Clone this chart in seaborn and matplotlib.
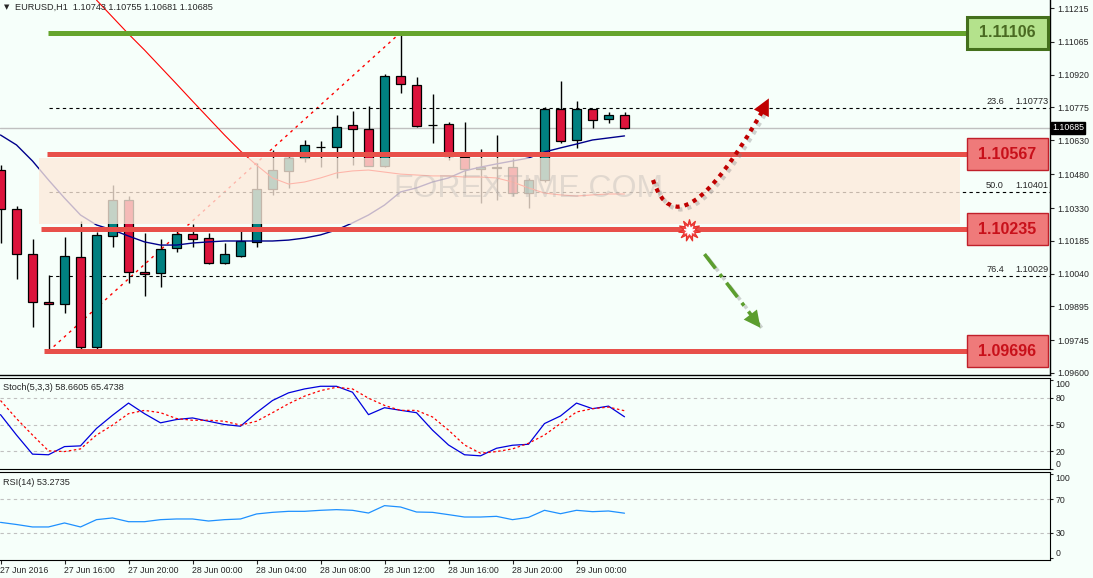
import numpy as np
import pandas as pd
import matplotlib
matplotlib.use("Agg")
import matplotlib.pyplot as plt
import matplotlib.patheffects as pe
import matplotlib.transforms as mtrans
from matplotlib.patches import Rectangle, PathPatch
from matplotlib.path import Path
import seaborn as sns

# EURUSD H1, 27 Jun 2016 12:00 -> 29 Jun 2016 03:00
times = pd.date_range("2016-06-27 12:00", periods=40, freq="h")

opens = [1.10498, 1.10326, 1.10126, 1.09914, 1.09905, 1.10113, 1.09715, 1.10206, 1.10365, 1.10047,
         1.10042, 1.10153, 1.10215, 1.10197, 1.10087, 1.10118, 1.10180, 1.10414, 1.10494, 1.10551,
         1.10600, 1.10600, 1.10697, 1.10680, 1.10516, 1.10914, 1.10874, 1.10697, 1.10702, 1.10556,
         1.10503, 1.10511, 1.10511, 1.10396, 1.10454, 1.10768, 1.10631, 1.10768, 1.10724, 1.10743]
highs = [1.10520, 1.10339, 1.10193, 1.10034, 1.10202, 1.10272, 1.10224, 1.10432, 1.10383, 1.10219,
         1.10193, 1.10233, 1.10259, 1.10219, 1.10175, 1.10246, 1.10529, 1.10587, 1.10556, 1.10631,
         1.10626, 1.10742, 1.10759, 1.10781, 1.10923, 1.11106, 1.10910, 1.10834, 1.10711, 1.10711,
         1.10591, 1.10653, 1.10551, 1.10463, 1.10777, 1.10892, 1.10803, 1.10770, 1.10755, 1.10755]
lows = [1.10175, 1.10016, 1.09803, 1.09696, 1.09865, 1.09706, 1.09706, 1.10157, 1.09998, 1.09941,
        1.09980, 1.10135, 1.10157, 1.10082, 1.10082, 1.10113, 1.10157, 1.10388, 1.10419, 1.10534,
        1.10511, 1.10463, 1.10520, 1.10516, 1.10510, 1.10839, 1.10688, 1.10618, 1.10542, 1.10467,
        1.10352, 1.10365, 1.10383, 1.10330, 1.10445, 1.10618, 1.10596, 1.10684, 1.10706, 1.10681]
closes = [1.10326, 1.10126, 1.09914, 1.09905, 1.10118, 1.09715, 1.10211, 1.10365, 1.10047, 1.10038,
          1.10149, 1.10215, 1.10193, 1.10087, 1.10126, 1.10184, 1.10414, 1.10498, 1.10551, 1.10609,
          1.10601, 1.10688, 1.10680, 1.10516, 1.10914, 1.10879, 1.10693, 1.10696, 1.10560, 1.10503,
          1.10511, 1.10507, 1.10396, 1.10454, 1.10768, 1.10626, 1.10768, 1.10719, 1.10742, 1.10685]

ma_blue = [1.10653, 1.10609, 1.10538, 1.10454, 1.10374, 1.10299, 1.10255, 1.10233, 1.10206, 1.10180,
           1.10166, 1.10166, 1.10175, 1.10180, 1.10184, 1.10184, 1.10184, 1.10184, 1.10188, 1.10197,
           1.10211, 1.10233, 1.10264, 1.10299, 1.10343, 1.10401, 1.10419, 1.10445, 1.10463, 1.10494,
           1.10511, 1.10525, 1.10538, 1.10551, 1.10578, 1.10596, 1.10613, 1.10631, 1.10640, 1.10649]
ma_red = [np.nan] * 6 + [
    1.11250, 1.11175, 1.11100, 1.11029, 1.10954, 1.10879, 1.10803, 1.10728, 1.10653, 1.10582,
    1.10520, 1.10463, 1.10436, 1.10445, 1.10463, 1.10485, 1.10494, 1.10498, 1.10489, 1.10480,
    1.10476, 1.10472, 1.10472, 1.10467, 1.10467, 1.10463, 1.10445, 1.10419, 1.10396, 1.10388,
    1.10383, 1.10388, 1.10392, 1.10392]

stoch_k = [61.1, 38.2, 16.7, 16.0, 25.2, 26.0, 45.6, 60.4, 74.1, 62.2, 51.9, 55.6, 57.4, 53.7, 50.0,
           48.1, 63.3, 77.0, 85.6, 90.0, 93.0, 93.0, 86.3, 61.1, 68.9, 66.0, 63.3, 43.7, 27.0, 16.0,
           14.8, 23.3, 26.7, 27.8, 51.1, 59.6, 74.1, 67.8, 70.7, 58.7]
stoch_d = [77.0, 56.7, 38.2, 20.4, 19.6, 22.6, 38.2, 49.3, 62.2, 65.9, 63.3, 56.7, 54.8, 54.8, 53.7,
           49.3, 53.7, 63.3, 73.3, 81.9, 88.1, 91.9, 90.0, 79.6, 71.5, 65.9, 65.9, 58.5, 43.7, 27.0,
           17.8, 19.6, 22.6, 28.9, 38.2, 51.1, 64.1, 67.8, 69.6, 65.5]
rsi = [42.5, 40.0, 37.1, 37.1, 41.8, 37.1, 45.7, 47.7, 43.3, 43.3, 45.7, 46.5, 46.5, 44.1, 45.7,
       46.5, 52.4, 54.3, 55.5, 55.5, 56.7, 57.5, 56.7, 53.5, 62.2, 60.6, 54.7, 54.3, 51.6, 48.8,
       48.8, 49.6, 45.7, 48.4, 56.7, 52.7, 56.7, 55.1, 55.9, 53.3]

resistance = [1.11106]
supports = [1.10567, 1.10235, 1.09696]
zone_low, zone_high = 1.10259, 1.10551
fib_pcts = [23.6, 50.0, 76.4]
price_ticks = [1.11215, 1.11065, 1.10920, 1.10775, 1.10630, 1.10480,
               1.10330, 1.10185, 1.10040, 1.09895, 1.09745, 1.09600]
last_price = 1.10685

BG = "#f6fffa"
TEAL = "#008080"
CRIMSON = "#dc143c"
LVL_RED = "#e8504a"
LVL_GREEN = "#66a52d"

sns.set_style("white", {"axes.facecolor": BG, "figure.facecolor": BG})
plt.rcParams["font.family"] = ["Liberation Sans", "DejaVu Sans"]

df = pd.DataFrame({"time": times, "open": opens, "high": highs, "low": lows, "close": closes,
                   "ma_blue": ma_blue, "ma_red": ma_red, "k": stoch_k, "d": stoch_d, "rsi": rsi})
df["i"] = np.arange(len(df))

W, H = 1093, 578
fig = plt.figure(figsize=(W / 100, H / 100), dpi=100)


def px_box(l, t, r, b):
    return [l / W, 1 - b / H, (r - l) / W, (b - t) / H]


ax = fig.add_axes(px_box(0, 0, 1050, 375))
ax_st = fig.add_axes(px_box(0, 378, 1050, 469), sharex=ax)
ax_rsi = fig.add_axes(px_box(0, 472, 1050, 560), sharex=ax)

# price scale: 1 px = 0.00004425
pp = 0.00004425
ax.set_ylim(1.11215 - 367 * pp, 1.11215 + 8 * pp)
ax.set_xlim(-0.5 / 16, 1049.5 / 16)

# current price line
ax.axhline(last_price, color="#c0c0c0", lw=1, zorder=1)

# candles
body_lo = np.minimum(df.open, df.close)
body_h = np.maximum((df.close - df.open).abs(), 0.000012)
colors = np.where(df.close > df.open, TEAL, CRIMSON).astype(object)
colors[(df.close - df.open).abs() < 0.00002] = "black"
ax.vlines(df.i, df.low, df.high, color="black", lw=1, zorder=2)
ax.bar(df.i, body_h, bottom=body_lo, width=0.62, color=list(colors),
       edgecolor="black", linewidth=0.9, zorder=3)

# moving averages
sns.lineplot(data=df, x="i", y="ma_blue", ax=ax, color="#00008b", lw=1, zorder=3)
sns.lineplot(data=df.dropna(subset=["ma_red"]), x="i", y="ma_red", ax=ax, color="red", lw=0.8, zorder=3)

# fibonacci
i_lo = int(np.argmin(lows))
i_hi = int(np.argmax(highs))
f_lo, f_hi = lows[i_lo], highs[i_hi]
ax.plot([i_lo, i_hi], [f_lo, f_hi], color="red", lw=1, ls=(0, (2, 3)), zorder=2)
xr = mtrans.blended_transform_factory(ax.transAxes, ax.transData)
for p in fib_pcts:
    v = f_hi - p / 100 * (f_hi - f_lo)
    ax.plot([i_lo, 70], [v, v], color="black", lw=0.8, ls=(0, (3, 3)), zorder=2)
    ax.text(1004 / 1050, v + 2 * pp, f"{p:.1f}", transform=xr, ha="right", va="bottom",
            fontsize=6.6, zorder=9)
    ax.text(1048 / 1050, v + 2 * pp, f"{v:.5f}", transform=xr, ha="right", va="bottom",
            fontsize=6.6, zorder=9)

# shaded zone
ax.axhspan(zone_low, zone_high, xmin=39 / 1050, xmax=960 / 1050, color="#fdeadb", alpha=0.78,
           lw=0, zorder=4)
ax.text(33.0, (zone_low + zone_high) / 2 + 0.0001, "FOREXTIME.COM", fontsize=23, color="#a8a8a8",
        alpha=0.3, ha="center", va="center", fontweight="light", zorder=5)

# support / resistance lines with price boxes
starts = {1.11106: 48, 1.10567: 47, 1.10235: 41, 1.09696: 44}
bx0, bx1 = (967 - 0.5) / 16, (1048 - 0.5) / 16
for lv in resistance + supports:
    green = lv in resistance
    ax.plot([(starts[lv] - 0.5) / 16, bx0], [lv, lv], color=LVL_GREEN if green else LVL_RED,
            lw=3.6, solid_capstyle="butt", zorder=6)
    ax.add_patch(Rectangle((bx0, lv - 16 * pp), bx1 - bx0, 32 * pp,
                           facecolor="#b4e28c" if green else "#ef7a7a",
                           edgecolor="#44701c" if green else "#c0202a",
                           lw=2.2 if green else 1.0, zorder=7, clip_on=False))
    ax.text((bx0 + bx1) / 2, lv, f"{lv:.5f}", ha="center", va="center", fontsize=11.5,
            fontweight="bold", color="#4a6a22" if green else "#c8101a", zorder=8)

# scenario arrows
shadow = [pe.SimpleLineShadow(offset=(2, -2), shadow_color="gray", alpha=0.35), pe.Normal()]
curve = Path([(40.78, 1.10454), (42.4, 1.10110), (47.66, 1.10764)],
             [Path.MOVETO, Path.CURVE3, Path.CURVE3])
ax.add_patch(PathPatch(curve, fill=False, edgecolor="#c00000", lw=3, ls=(0, (1, 1.2)),
                       capstyle="butt", zorder=8, path_effects=shadow))
ax.annotate("", xy=(48.1, 1.10826), xytext=(47.66, 1.10764),
            arrowprops=dict(arrowstyle="-|>", color="#c00000", lw=0, mutation_scale=30), zorder=8)
ax.plot([44.0, 47.4], [1.10126, 1.09812], color="#5c9e2e", lw=2.6, ls=(0, (5, 2, 1, 2)), zorder=8,
        path_effects=shadow)
ax.annotate("", xy=(47.6, 1.09790), xytext=(47.3, 1.09818),
            arrowprops=dict(arrowstyle="-|>", color="#5c9e2e", lw=0, mutation_scale=30), zorder=8)
ax.plot(43.0, 1.10233, marker=(11, 1, 0), ms=16, mfc="#f04848", mec="#e8302a", mew=0.8, zorder=9)
ax.plot(43.0, 1.10233, marker=(9, 1, 0), ms=8, mfc="white", mec="white", mew=0.5, zorder=9)

# main axis styling
ax.yaxis.tick_right()
ax.set_yticks(price_ticks)
ax.set_yticklabels([f"{v:.5f}" for v in price_ticks])
ax.tick_params(axis="y", labelsize=6.3, length=3, pad=2, right=True, left=False)
ax.tick_params(axis="x", bottom=False, labelbottom=False)
ax.set_xlabel("")
ax.set_ylabel("")
for s in ["left", "top"]:
    ax.spines[s].set_visible(False)
for s in ["right", "bottom"]:
    ax.spines[s].set_color("black")
    ax.spines[s].set_linewidth(1)
ax.text(1.002, last_price, f"{last_price:.5f}", transform=xr, ha="left", va="center",
        fontsize=6.3, color="white", zorder=10, clip_on=False,
        bbox=dict(boxstyle="square,pad=0.15", fc="black", ec="black"))
fig.text(4 / W, 1 - 7 / H, "\u25bc", fontsize=5, va="center", family="DejaVu Sans")
fig.text(15 / W, 1 - 7 / H, "EURUSD,H1  1.10743 1.10755 1.10681 1.10685", fontsize=6.6, va="center")

# stochastic
for lv in [80, 50, 20]:
    ax_st.axhline(lv, color="#c0c0c0", lw=0.8, ls=(0, (3, 3)))
sns.lineplot(data=df, x="i", y="k", ax=ax_st, color="#0000dd", lw=0.9)
sns.lineplot(data=df, x="i", y="d", ax=ax_st, color="red", lw=0.9, ls=(0, (2, 2)))
ax_st.set_ylim(0, 102.3)
ax_st.yaxis.tick_right()
ax_st.set_yticks([0, 20, 50, 80, 100])
ax_st.tick_params(axis="y", labelsize=6.3, length=2, pad=2)
ax_st.tick_params(axis="x", bottom=False, labelbottom=False)
ax_st.set_xlabel("")
ax_st.set_ylabel("")
ax_st.spines["left"].set_visible(False)
for s in ["right", "bottom", "top"]:
    ax_st.spines[s].set_color("black")
ax_st.text(0.003, 0.9, "Stoch(5,3,3) 58.6605 65.4738", transform=ax_st.transAxes, fontsize=6.6,
           va="center")

# rsi
for lv in [70, 30]:
    ax_rsi.axhline(lv, color="#c0c0c0", lw=0.8, ls=(0, (3, 3)))
sns.lineplot(data=df, x="i", y="rsi", ax=ax_rsi, color="#1e90ff", lw=0.9)
ax_rsi.set_ylim(-1.8, 101.8)
ax_rsi.yaxis.tick_right()
ax_rsi.set_yticks([0, 30, 70, 100])
ax_rsi.tick_params(axis="y", labelsize=6.3, length=2, pad=2)
ax_rsi.set_ylabel("")
ax_rsi.set_xlabel("")
ax_rsi.spines["left"].set_visible(False)
for s in ["right", "bottom", "top"]:
    ax_rsi.spines[s].set_color("black")
ax_rsi.text(0.003, 0.88, "RSI(14) 53.2735", transform=ax_rsi.transAxes, fontsize=6.6, va="center")

# keep the 0 / 100 labels inside their panels, as the terminal does
for a in (ax_st, ax_rsi):
    labs = a.get_yticklabels()
    labs[0].set_verticalalignment("bottom")
    labs[-1].set_verticalalignment("top")

tick_idx = df.i[::4].tolist()
tick_lab = ["27 Jun 2016"] + [t.strftime("%d %b %H:%M") for t in df.time[::4][1:]]
ax_rsi.set_xticks(tick_idx)
ax_rsi.set_xticklabels(tick_lab, ha="left")
ax_rsi.tick_params(axis="x", labelsize=6.3, length=3, pad=1, bottom=True)
ax_rsi.set_xlim(-0.5 / 16, 1049.5 / 16)

fig.savefig("out.png", dpi=100, facecolor=BG)
